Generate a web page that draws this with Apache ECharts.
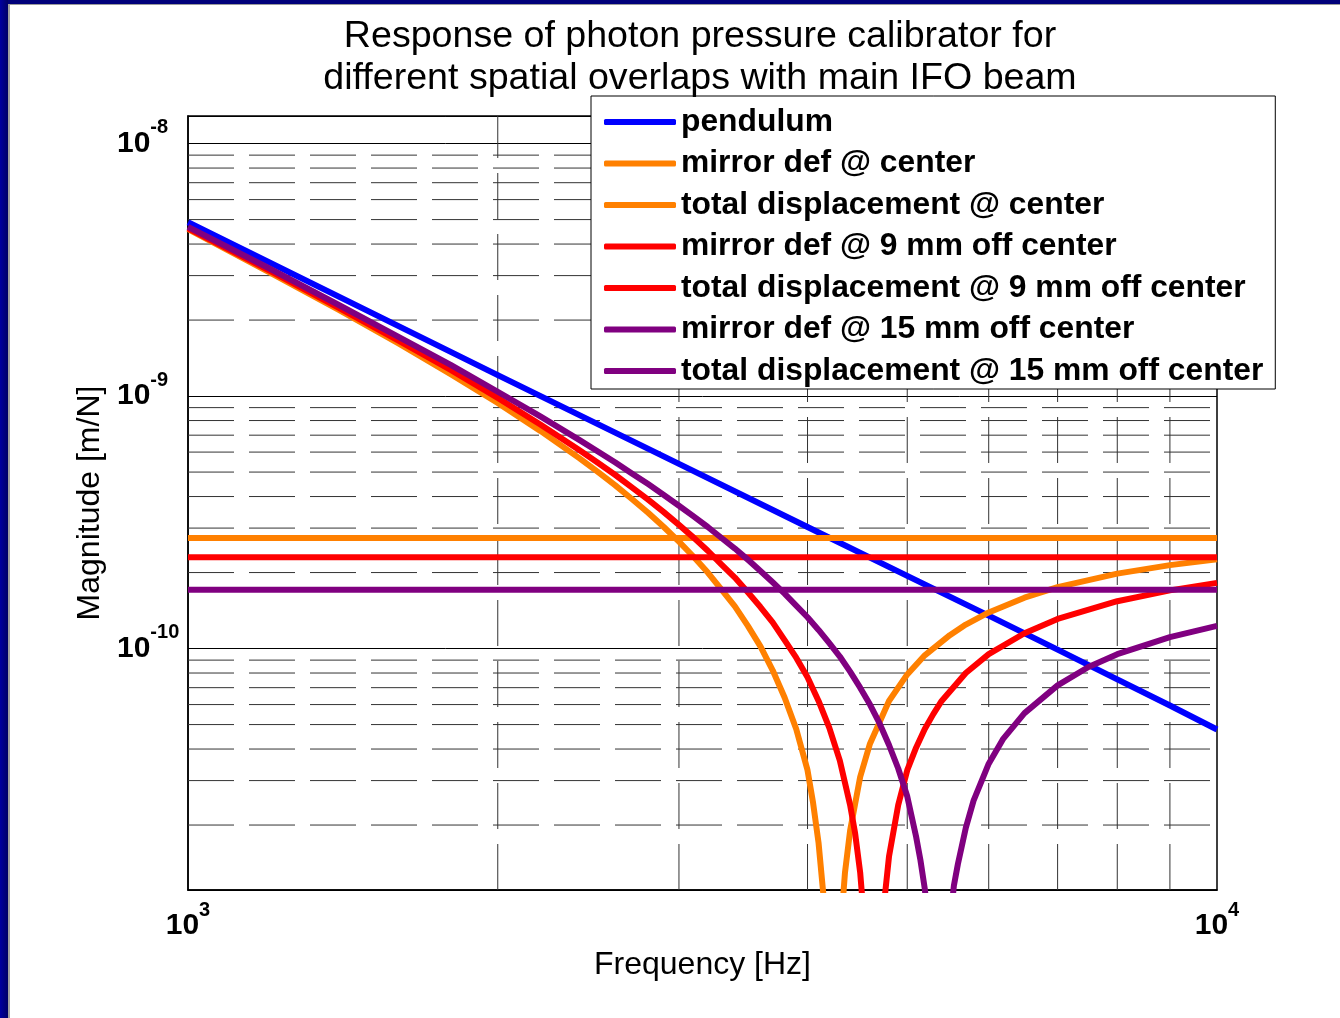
<!DOCTYPE html>
<html><head><meta charset="utf-8">
<script src="https://cdn.jsdelivr.net/npm/echarts@6/dist/echarts.min.js"></script>
<style>html,body{margin:0;padding:0;background:#fff;}#c{width:1340px;height:1018px;}</style>
</head><body><div id="c"></div><script>
// ---------------- data ----------------
const seriesNames = [
  'pendulum',
  'mirror def @ center',
  'total displacement @ center',
  'mirror def @ 9 mm off center',
  'total displacement @ 9 mm off center',
  'mirror def @ 15 mm off center',
  'total displacement @ 15 mm off center'
];
const seriesColors = ['#0000FF', '#FF8000', '#FF8000', '#FF0000', '#FF0000', '#800080', '#800080'];

const pendFreq = [1000, 1500, 2000, 3000, 4000, 5000, 6000, 7000, 8000, 9000, 10000];
const pendVals = [4.88e-9, 2.16e-9, 1.21e-9, 5.39e-10, 3.03e-10, 1.94e-10, 1.35e-10, 9.9e-11, 7.55e-11, 5.95e-11, 4.78e-11];

const mirrorFreq = [1000, 10000];
const mirrorCenterVals = [2.74e-10, 2.74e-10];
const mirror9Vals = [2.30e-10, 2.30e-10];
const mirror15Vals = [1.71e-10, 1.71e-10];

const totCenterFreq = [1000,1200,1400,1600,1800,2000,2200,2400,2500,2600,2700,2800,2900,3000,3100,3200,3300,3400,3500,3600,3700,3800,3900,4000,4050,4100,4150,4200,4250,4300,4350,4400,4500,4600,4800,5000,5200,5500,5700,6000,6500,7000,8000,9000,10000];
const totCenterVals = [4.58e-9,3.09e-9,2.20e-9,1.62e-9,1.22e-9,9.39e-10,7.28e-10,5.68e-10,5.02e-10,4.44e-10,3.91e-10,3.45e-10,3.03e-10,2.65e-10,2.31e-10,2.00e-10,1.71e-10,1.47e-10,1.23e-10,1.02e-10,8.2e-11,6.4e-11,4.8e-11,3.3e-11,2.45e-11,1.7e-11,1.0e-11,3.5e-12,1.5e-12,7e-12,1.3e-11,1.9e-11,3.1e-11,4.2e-11,6.2e-11,7.9e-11,9.4e-11,1.13e-10,1.245e-10,1.39e-10,1.59e-10,1.75e-10,1.98e-10,2.14e-10,2.26e-10];

const tot9Freq = [1000,1200,1400,1600,1800,2000,2200,2400,2500,2600,2700,2800,2900,3000,3100,3200,3300,3400,3500,3600,3700,3800,3900,4000,4100,4200,4300,4400,4450,4500,4550,4600,4650,4700,4750,4800,4900,5000,5100,5200,5300,5400,5700,6000,6500,7000,8000,9000,10000];
const tot9Vals = [4.62e-9,3.14e-9,2.24e-9,1.66e-9,1.27e-9,9.83e-10,7.72e-10,6.12e-10,5.46e-10,4.88e-10,4.35e-10,3.89e-10,3.47e-10,3.09e-10,2.75e-10,2.44e-10,2.15e-10,1.91e-10,1.67e-10,1.46e-10,1.27e-10,1.08e-10,9.2e-11,7.7e-11,6.2e-11,4.85e-11,3.6e-11,2.4e-11,1.85e-11,1.3e-11,7.5e-12,3e-12,1.5e-12,5.5e-12,1.0e-11,1.5e-11,2.4e-11,3.3e-11,4.05e-11,4.8e-11,5.5e-11,6.2e-11,8.0e-11,9.5e-11,1.15e-10,1.31e-10,1.54e-10,1.70e-10,1.82e-10];

const tot15Freq = [1000,1200,1400,1600,1800,2000,2200,2400,2500,2600,2700,2800,2900,3000,3100,3200,3300,3400,3500,3600,3700,3800,3900,4000,4100,4200,4300,4400,4500,4600,4700,4800,4900,5000,5100,5150,5200,5250,5300,5350,5400,5450,5500,5550,5600,5700,5800,6000,6200,6500,7000,7500,8000,9000,10000];
const tot15Vals = [4.68e-9,3.20e-9,2.30e-9,1.72e-9,1.33e-9,1.04e-9,8.31e-10,6.71e-10,6.05e-10,5.47e-10,4.94e-10,4.48e-10,4.06e-10,3.68e-10,3.34e-10,3.03e-10,2.74e-10,2.49e-10,2.25e-10,2.03e-10,1.83e-10,1.65e-10,1.48e-10,1.33e-10,1.185e-10,1.05e-10,9.3e-11,8.1e-11,7.0e-11,6.0e-11,5.05e-11,4.15e-11,3.35e-11,2.6e-11,1.8e-11,1.45e-11,1.12e-11,7.8e-12,4.5e-12,1.3e-12,2e-12,5e-12,8e-12,1.15e-11,1.4e-11,1.95e-11,2.5e-11,3.5e-11,4.4e-11,5.55e-11,7.15e-11,8.45e-11,9.5e-11,1.11e-10,1.23e-10];

// axis ranges and minor grid values
const xRange = [1000, 10000];
const yRange = [1.106e-11, 1.286e-8];
const xMinorGrid = [2000, 3000, 4000, 5000, 6000, 7000, 8000, 9000];
const yMinorGrid = [2e-11,3e-11,4e-11,5e-11,6e-11,7e-11,8e-11,9e-11,
                    2e-10,3e-10,4e-10,5e-10,6e-10,7e-10,8e-10,9e-10,
                    2e-9,3e-9,4e-9,5e-9,6e-9,7e-9,8e-9,9e-9];

// ---------------- chart ----------------
const FONT = "'Liberation Sans', Arial, Helvetica, sans-serif";
function pairs(xs, ys) { return xs.map((x, i) => [x, ys[i]]); }
function powLabel(v) {
  const e = Math.log10(v), r = Math.round(e);
  if (Math.abs(e - r) > 1e-6) return '';
  return '{b|10}{s|' + r + '}';
}
const rich = {
  b: { fontFamily: FONT, fontWeight: 'bold', fontSize: 30, color: '#000' },
  s: { fontFamily: FONT, fontWeight: 'bold', fontSize: 20, color: '#000', padding: [0, 0, 32, 0] }
};

const curveData = [
  pairs(pendFreq, pendVals),
  pairs(mirrorFreq, mirrorCenterVals),
  pairs(totCenterFreq, totCenterVals),
  pairs(mirrorFreq, mirror9Vals),
  pairs(tot9Freq, tot9Vals),
  pairs(mirrorFreq, mirror15Vals),
  pairs(tot15Freq, tot15Vals)
];

const gridDash = { color: '#333', width: 1, type: [46, 15] };
const series = [];
yMinorGrid.forEach(v => series.push({
  type: 'line', data: [[xRange[0], v], [xRange[1], v]], symbol: 'none', silent: true, z: 1,
  lineStyle: gridDash, emphasis: { disabled: true }
}));
xMinorGrid.forEach(v => series.push({
  type: 'line', data: [[v, yRange[0]], [v, yRange[1]]], symbol: 'none', silent: true, z: 1,
  lineStyle: gridDash, emphasis: { disabled: true }
}));
seriesNames.forEach((n, i) => series.push({
  name: n, type: 'line', data: curveData[i], symbol: 'none', showSymbol: false,
  color: seriesColors[i], lineStyle: { width: 6, color: seriesColors[i], join: 'round' },
  clip: true, z: 2 + i, emphasis: { disabled: true }
}));

const option = {
  animation: false,
  backgroundColor: '#fff',
  title: {
    text: 'Response of photon pressure calibrator for\ndifferent spatial overlaps with main IFO beam',
    left: 700, top: 16, textAlign: 'center', padding: 0,
    textStyle: { fontFamily: FONT, fontWeight: 'normal', fontSize: 37.6, lineHeight: 42, color: '#000' }
  },
  legend: {
    data: seriesNames, orient: 'vertical', left: 591, top: 96,
    padding: [10, 12, 2, 13], itemWidth: 72, itemHeight: 6, itemGap: 9.5, icon: 'roundRect',
    backgroundColor: '#fff', borderColor: '#000', borderWidth: 1, selectedMode: false,
    textStyle: { fontFamily: FONT, fontWeight: 'bold', fontSize: 31.8, lineHeight: 32, color: '#000' }
  },
  grid: { left: 188, top: 116, right: 123, bottom: 128, show: true, borderColor: '#000', borderWidth: 1.5, backgroundColor: '#fff' },
  xAxis: {
    type: 'log', logBase: 10, min: xRange[0], max: xRange[1],
    axisLine: { show: true, lineStyle: { color: '#000', width: 1.5 } },
    axisTick: { show: false }, splitLine: { show: false },
    axisLabel: { formatter: powLabel, margin: 10, rich: rich },
    name: 'Frequency [Hz]', nameLocation: 'middle', nameGap: 59,
    nameTextStyle: { fontFamily: FONT, fontSize: 32, color: '#000' }
  },
  yAxis: {
    type: 'log', logBase: 10, min: yRange[0], max: yRange[1],
    axisLine: { show: true, lineStyle: { color: '#000', width: 1.5 } },
    axisTick: { show: false },
    splitLine: { show: true, lineStyle: { color: '#000', width: 1 } },
    axisLabel: { formatter: powLabel, margin: 71, align: 'left', rich: rich },
    name: 'Magnitude [m/N]', nameLocation: 'middle', nameGap: 80,
    nameTextStyle: { fontFamily: FONT, fontSize: 32, color: '#000' }
  },
  graphic: [
    { type: 'rect', left: 0, top: 0, shape: { width: 1340, height: 4 }, style: { fill: '#00007a' }, z: 100 },
    { type: 'rect', left: 0, top: 4, shape: { width: 1340, height: 1 }, style: { fill: '#9a9a9a' }, z: 100 },
    { type: 'rect', left: 0, top: 0, shape: { width: 8, height: 1018 },
      style: { fill: new echarts.graphic.LinearGradient(0, 0, 1, 0, [{ offset: 0, color: '#0000a0' }, { offset: 1, color: '#000066' }]) }, z: 100 },
    { type: 'rect', left: 8, top: 4, shape: { width: 2, height: 1014 }, style: { fill: '#a0a0a0' }, z: 100 }
  ],
  series: series
};
const chart = echarts.init(document.getElementById('c'), null, { renderer: 'canvas' });
chart.setOption(option);
</script></body></html>
